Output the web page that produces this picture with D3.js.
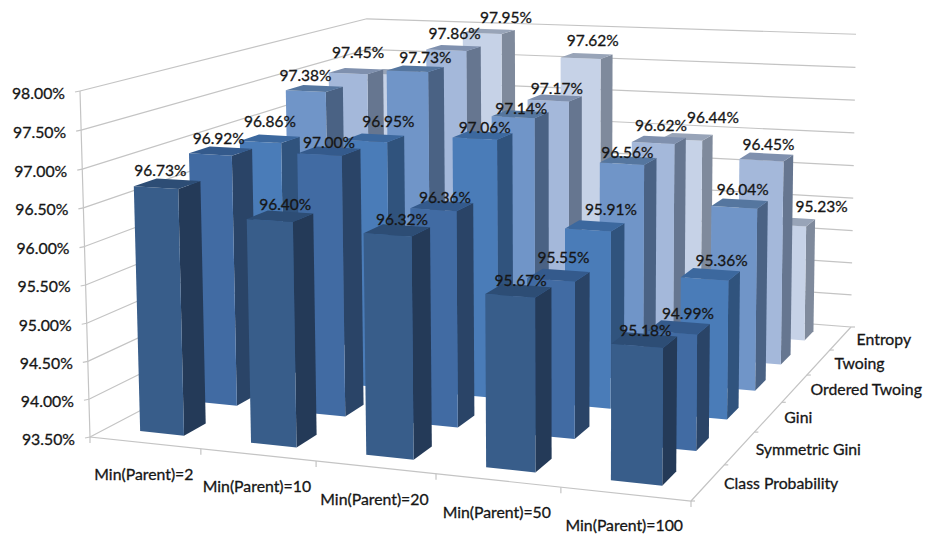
<!DOCTYPE html>
<html>
<head>
<meta charset="utf-8">
<script src="https://cdn.jsdelivr.net/npm/d3@7"></script>
<style>
html,body{margin:0;padding:0;background:#fff;}
svg{display:block;}
text{font-family:Lato,"Open Sans",sans-serif;fill:#161616;stroke:#161616;stroke-width:0.3px;}
</style>
</head>
<body>
<svg id="chart" width="927" height="539"></svg>
<script>
// Accuracy by split criterion and minimum parent size
const categories = ["Min(Parent)=2","Min(Parent)=10","Min(Parent)=20","Min(Parent)=50","Min(Parent)=100"];
const seriesNames = ["Class Probability","Symmetric Gini","Gini","Ordered Twoing","Twoing","Entropy"];
const classProbability = [96.73,96.40,96.32,95.67,95.18];
const symmetricGini   = [96.92,97.00,96.36,95.55,94.99];
const gini            = [96.86,96.95,97.06,95.91,95.36];
const orderedTwoing   = [97.38,97.73,97.14,96.56,96.04];
const twoing          = [97.45,97.86,97.17,96.62,96.45];
const entropy         = [97.25,97.95,97.62,96.44,95.23];
const valueTicks = [93.5,94,94.5,95,95.5,96,96.5,97,97.5,98];
const seriesValues = [classProbability,symmetricGini,gini,orderedTwoing,twoing,entropy];
const frontColors = ["#385d8a","#416ba3","#4a7cb8","#7095c8","#a4b8da","#c6d2e7"];
const sideColors  = ["#243a58","#2a4467","#30537d","#4a6284","#667690","#7f8a9c"];
const topColors   = ["#2d4d75","#345a8c","#3c689e","#55769f","#7f90ae","#98a4b8"];

// Hand placement of each value label relative to its bar top, by series then category
const labelNudge = [
  [[-1,0],[11,2],[11,3],[8,3],[7,4]],
  [[4,1],[6,5],[9,5],[11,-4],[15,0]],
  [[6,-4],[20,-3],[8,6],[22,-3],[17,0]],
  [[-3,1],[16,2],[7,8],[5,6],[9,-1]],
  [[8,-5],[7,-1],[8,4],[8,-1],[8,1]],
  [null,[23,0],[12,-2],[32,-6],[38,-2]]
];

const svg = d3.select("#chart");

// Camera: floor corners on screen, the front-left top corner, and the point uprights converge to
const floorQuad = [[90,437],[691,501],[851,327],[370,290]];
const frontLeftTopY = 91;
const verticalVanish = [567,16940];

function floorMatrix(q){
  const [p0,p1,p2,p3]=q;
  const dx1=p1[0]-p2[0],dx2=p3[0]-p2[0],sx=p0[0]-p1[0]+p2[0]-p3[0];
  const dy1=p1[1]-p2[1],dy2=p3[1]-p2[1],sy=p0[1]-p1[1]+p2[1]-p3[1];
  const det=dx1*dy2-dx2*dy1;
  const g=(sx*dy2-dx2*sy)/det,h=(dx1*sy-sx*dy1)/det;
  return {
    a:p1[0]-p0[0]+g*p1[0],b:p3[0]-p0[0]+h*p3[0],c:p0[0],
    d:p1[1]-p0[1]+g*p1[1],e:p3[1]-p0[1]+h*p3[1],f:p0[1],g,h
  };
}
const M=floorMatrix(floorQuad);
const K=(frontLeftTopY-floorQuad[0][1])/(verticalVanish[1]-frontLeftTopY);

// Data scales: category along the front edge, series going into the depth, value going up
const xBand=d3.scaleBand().domain(categories).range([0,1]).paddingInner(0.6).paddingOuter(0.3);
const zBand=d3.scaleBand().domain(seriesNames).range([0,1]).paddingInner(0.6).paddingOuter(0.3);
const yScale=d3.scaleLinear().domain([93.5,98]).range([0,1]);
const xStep=xBand.step(), zStep=zBand.step();

function project(u,v,value){
  const t=yScale(value);
  const w=M.g*u+M.h*v+1+K*t;
  return [(M.a*u+M.b*v+M.c+K*t*verticalVanish[0])/w,(M.d*u+M.e*v+M.f+K*t*verticalVanish[1])/w];
}
const pathOf=pts=>d3.line()(pts)+"Z";

// Wall gridlines and the value axis
const grid=svg.append("g").attr("fill","none").attr("stroke","#c4c4c4").attr("stroke-width",1.2);
valueTicks.forEach(t=>{
  grid.append("path").attr("d",d3.line()([project(0,0,t),project(0,1,t),project(1,1,t)]));
  const p=project(0,0,t);
  grid.append("path").attr("d",d3.line()([[p[0]-5,p[1]+1],p]));
  svg.append("text").attr("x",p[0]-15).attr("y",p[1]+1).attr("text-anchor","end")
    .attr("dominant-baseline","central").attr("font-size",15.8)
    .text(t.toFixed(2)+"%");
});
grid.append("path").attr("d",d3.line()([project(0,0,98),project(0,0,93.5),project(1,0,93.5),project(1,1,93.5)]));

// Category ticks and labels on the front edge
d3.range(0,categories.length+1).forEach(i=>{
  const p=project(i*xStep,0,93.5);
  grid.append("path").attr("d",d3.line()([p,[p[0],p[1]+6]]));
});
categories.forEach((c,i)=>{
  const p=project((i+0.5)*xStep,0,93.5);
  svg.append("text").attr("x",p[0]-1).attr("y",p[1]+31).attr("text-anchor","middle")
    .attr("dominant-baseline","central").attr("font-size",15.8).text(c);
});

// Series ticks and labels on the right edge
d3.range(0,seriesNames.length+1).forEach(i=>{
  const p=project(1,i*zStep,93.5);
  grid.append("path").attr("d",d3.line()([p,[p[0]+4,p[1]]]));
});
seriesNames.forEach((s,i)=>{
  const p=project(1,(i+0.5)*zStep,93.5);
  svg.append("text").attr("x",p[0]+16).attr("y",p[1]).attr("dominant-baseline","central")
    .attr("font-size",15.8).text(s);
});

// Bars, painted from the back row forward and left to right within a row
const bars=svg.append("g");
d3.range(seriesNames.length-1,-1,-1).forEach(si=>{
  categories.forEach((c,ci)=>{
    const value=seriesValues[si][ci];
    const u0=xBand(c),u1=u0+xBand.bandwidth();
    const v0=zBand(seriesNames[si]),v1=v0+zBand.bandwidth();
    bars.append("path").attr("fill",sideColors[si]).attr("d",pathOf([
      project(u1,v0,93.5),project(u1,v1,93.5),project(u1,v1,value),project(u1,v0,value)]));
    bars.append("path").attr("fill",frontColors[si]).attr("d",pathOf([
      project(u0,v0,93.5),project(u1,v0,93.5),project(u1,v0,value),project(u0,v0,value)]));
    bars.append("path").attr("fill",topColors[si]).attr("d",pathOf([
      project(u0,v0,value),project(u1,v0,value),project(u1,v1,value),project(u0,v1,value)]));
  });
});

// Value labels sit above every bar; the tucked-away Entropy bar at Min(Parent)=2 carries none
seriesValues.forEach((vals,si)=>{
  vals.forEach((value,ci)=>{
    const nudge=labelNudge[si][ci];
    if(!nudge) return;
    const u=xBand(categories[ci])+xBand.bandwidth()/2;
    const v=zBand(seriesNames[si])+zBand.bandwidth()/2;
    const p=project(u,v,value);
    svg.append("text").attr("x",p[0]-6+nudge[0]).attr("y",p[1]-14+nudge[1]).attr("text-anchor","middle")
      .attr("dominant-baseline","central").attr("font-size",15.5)
      .text(value.toFixed(2)+"%");
  });
});
</script>
</body>
</html>
